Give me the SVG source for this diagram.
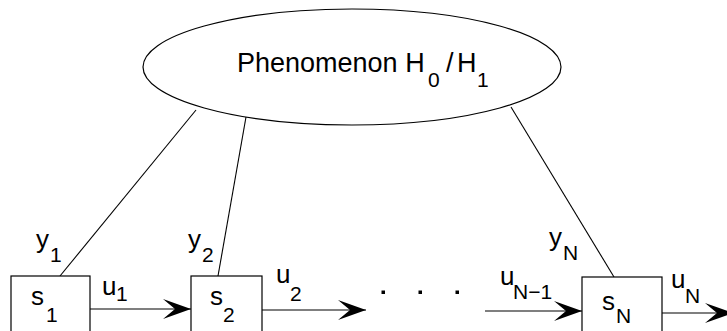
<svg xmlns="http://www.w3.org/2000/svg" width="727" height="331" viewBox="0 0 727 331">
<style>
.ln{stroke:#000;stroke-width:1.1;fill:none}
.bx{stroke:#000;stroke-width:1.2;fill:#fff}
.t{font-family:"Liberation Sans",Arial,sans-serif;font-size:26px;fill:#000}
.s{font-size:21px}
.h{font-size:27px}
</style>
<defs>
<marker id="ah" markerUnits="userSpaceOnUse" markerWidth="30" markerHeight="22" refX="28" refY="10" orient="auto" viewBox="0 0 30 22">
<path d="M28,10 L0,0 L12,10 L0,20 z" fill="#000"/>
</marker>
</defs>
<rect width="727" height="331" fill="#fff"/>
<g id="connectors">
<line class="ln" x1="60" y1="276" x2="196" y2="110"/>
<line class="ln" x1="218" y1="276" x2="246" y2="117"/>
<line class="ln" x1="614" y1="277" x2="511" y2="107"/>
<line class="ln" x1="90" y1="309" x2="191" y2="309" marker-end="url(#ah)"/>
<line class="ln" x1="262" y1="310" x2="366" y2="310" marker-end="url(#ah)"/>
<line class="ln" x1="485" y1="311" x2="582" y2="311" marker-end="url(#ah)"/>
<line class="ln" x1="662" y1="313" x2="733" y2="313" marker-end="url(#ah)"/>
</g>
<g id="phenomenon">
<ellipse class="bx" cx="352" cy="67" rx="209" ry="58"/>
<text class="t h" x="237" y="72">Phenomenon H<tspan class="s" x="428" y="87">0</tspan><tspan class="h" x="446" y="72">/</tspan><tspan class="h" x="457" y="72">H</tspan><tspan class="s" x="477" y="87">1</tspan></text>
</g>
<g id="s1">
<rect class="bx" x="11" y="276" width="79" height="70"/>
<text class="t" x="31" y="305">s<tspan class="s" x="46" y="322">1</tspan></text>
</g>
<g id="s2">
<rect class="bx" x="191" y="276" width="71" height="70"/>
<text class="t" x="210" y="305">s<tspan class="s" x="223" y="322">2</tspan></text>
</g>
<g id="sN">
<rect class="bx" x="582" y="277" width="80" height="70"/>
<text class="t" x="602" y="310">s<tspan class="s" x="616" y="323">N</tspan></text>
</g>
<g id="labels">
<text class="t" x="36" y="248">y<tspan class="s" x="50" y="262">1</tspan></text>
<text class="t" x="188" y="248">y<tspan class="s" x="202" y="262">2</tspan></text>
<text class="t" x="549" y="246">y<tspan class="s" x="563" y="260">N</tspan></text>
<text class="t" x="102" y="295">u<tspan class="s" x="116" y="301">1</tspan></text>
<text class="t" x="276" y="283">u<tspan class="s" x="290" y="301">2</tspan></text>
<text class="t" x="500" y="285">u<tspan class="s" x="513" y="299">N−1</tspan></text>
<text class="t" x="671" y="288">u<tspan class="s" x="685" y="303">N</tspan></text>
</g>
<g id="dots">
<rect x="381.5" y="290.5" width="3.5" height="3.5" fill="#000"/>
<rect x="418.5" y="290.5" width="3.5" height="3.5" fill="#000"/>
<rect x="455.5" y="290.5" width="3.5" height="3.5" fill="#000"/>
</g>
</svg>
